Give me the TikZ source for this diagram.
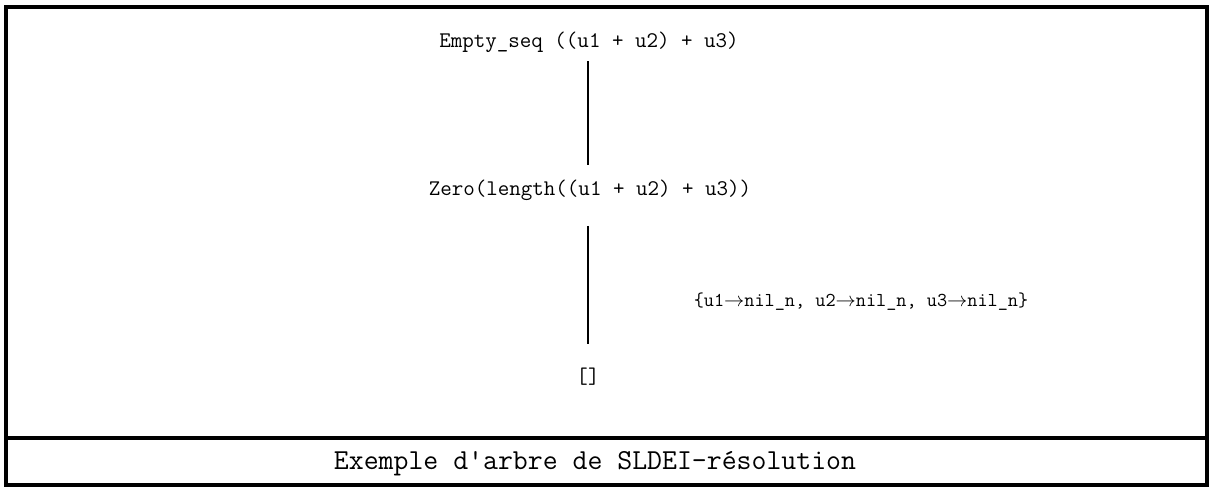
\documentclass[tikz,border=0pt]{standalone}
\usepackage{fontspec}
\newcommand{\maps}{$\rightarrow$}
\begin{document}
\begin{tikzpicture}[x=0.025cm,y=-0.025cm,
    term/.style={font=\ttfamily\fontsize{15.9}{18}\selectfont,inner sep=0pt},
    subst/.style={font=\ttfamily\fontsize{14}{16}\selectfont,inner sep=0pt},
    caption/.style={font=\ttfamily\fontsize{20.6}{23}\selectfont,inner sep=0pt},
    frame/.style={line width=2.2pt},
    branch/.style={line width=0.9pt}]
    \useasboundingbox (0,0) rectangle (1210,487);

    % Frame
    \draw[frame] (6,7) rectangle (1207,485);
    \draw[frame] (6,438) -- (1207,438);

    % Goals
    \node[term] (seq)  at (589,42)  {Empty\_seq ((u1 + u2) + u3)};
    \node[term] (zero) at (590,190) {Zero(length((u1 + u2) + u3))};
    \node[term] (nil)  at (588,377) {[]};

    % Branches
    \draw[branch,shorten <=6,shorten >=10] (seq.south -| nil) -- (zero.north -| nil);
    \draw[branch,shorten <=18,shorten >=17] (zero.south -| nil) -- (nil.north);

    % Substitution
    \node[subst] (theta) at (861,302) {\{u1\maps nil\_n, u2\maps nil\_n, u3\maps nil\_n\}};

    \node[caption] (title) at (595,464) {Exemple d'arbre de SLDEI-résolution};
\end{tikzpicture}
\end{document}
